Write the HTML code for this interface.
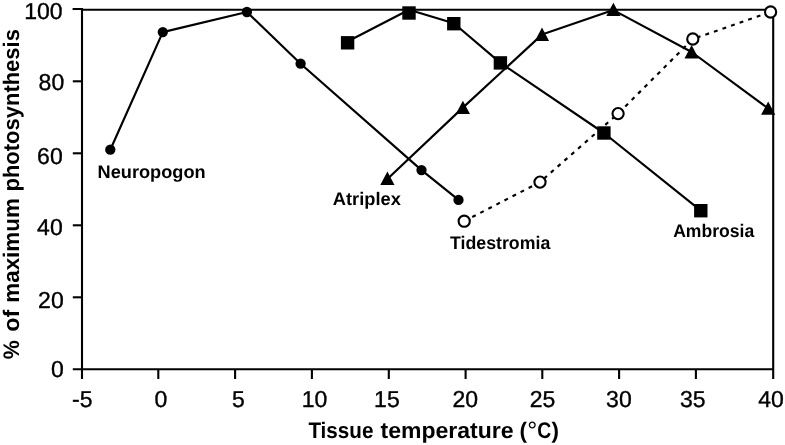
<!DOCTYPE html>
<html><head><meta charset="utf-8"><title>Photosynthesis vs tissue temperature</title>
<style>
html,body{margin:0;padding:0;background:#fff;}
svg{display:block;}
text{font-family:"Liberation Sans",sans-serif;fill:#000;text-rendering:geometricPrecision;}
.b{font-weight:bold;}
</style></head><body>
<svg width="785" height="445" viewBox="0 0 785 445">
<rect width="785" height="445" fill="#fff"/>
<g stroke="#000" stroke-width="2.1" fill="none" stroke-linecap="butt">
<path d="M82.0,8 V379 M773.2,8.8 V379 M81.0,9.8 H774.2 M72.6,9 H82.0 M72.8,369.3 H774.2"/>
<path d="M72.8,81.3 H82.0"/>
<path d="M72.8,153.3 H82.0"/>
<path d="M72.8,225.3 H82.0"/>
<path d="M72.8,297.3 H82.0"/>
<path d="M158.3,369.3 V379"/>
<path d="M235.1,369.3 V379"/>
<path d="M311.9,369.3 V379"/>
<path d="M388.8,369.3 V379"/>
<path d="M465.6,369.3 V379"/>
<path d="M542.3,369.3 V379"/>
<path d="M619.1,369.3 V379"/>
<path d="M695.9,369.3 V379"/>
</g>
<g stroke="#000" stroke-width="2.15" fill="none" stroke-linejoin="round">
<polyline points="110.3,149.7 162.8,32.1 246.9,12.0 300.6,63.7 421.5,170.1 458.5,199.9"/>
<polyline points="347.6,41.5 409.0,9.8 453.8,23.2 500.4,62.9 603.9,133.0 700.8,210.7"/>
<polyline points="387.4,179.0 462.9,107.6 542.0,34.6 613.4,10.1 691.6,52.0 768.2,108.5"/>
<polyline points="464.2,221.2 540.0,182.1 618.1,113.6 692.8,39.0 770.6,12.0" stroke-dasharray="3.9 5.16"/>
</g>
<g fill="#000">
<circle cx="110.3" cy="149.7" r="5.15"/>
<circle cx="162.8" cy="32.1" r="5.15"/>
<circle cx="246.9" cy="12.0" r="5.15"/>
<circle cx="300.6" cy="63.7" r="5.15"/>
<circle cx="421.5" cy="170.1" r="5.15"/>
<circle cx="458.5" cy="199.9" r="5.15"/>
<rect x="340.9" y="36.1" width="13.4" height="13.4"/>
<rect x="402.3" y="6.3" width="13.4" height="13.4"/>
<rect x="447.1" y="17.0" width="13.4" height="13.4"/>
<rect x="493.7" y="56.2" width="13.4" height="13.4"/>
<rect x="597.2" y="126.3" width="13.4" height="13.4"/>
<rect x="694.1" y="204.0" width="13.4" height="13.4"/>
<path d="M387.4,171.5 L394.5,184.9 H380.3 Z"/>
<path d="M462.9,100.7 L470.0,114.1 H455.8 Z"/>
<path d="M542.0,27.5 L549.1,40.9 H534.9 Z"/>
<path d="M613.4,2.7 L620.5,16.1 H606.3 Z"/>
<path d="M691.6,45.0 L698.7,58.4 H684.5 Z"/>
<path d="M768.2,101.4 L775.3,114.8 H761.1 Z"/>
</g>
<g fill="#fff" stroke="#000" stroke-width="2.1">
<circle cx="464.2" cy="221.2" r="5.6"/>
<circle cx="540.0" cy="182.1" r="5.6"/>
<circle cx="618.1" cy="113.6" r="5.6"/>
<circle cx="692.8" cy="39.0" r="5.6"/>
<circle cx="770.6" cy="12.0" r="5.6"/>
</g>
<g font-size="23" text-anchor="end" stroke="#000" stroke-width="0.35">
<text x="62.6" y="18.5">100</text>
<text x="64.2" y="90.1">80</text>
<text x="62.7" y="163.5">60</text>
<text x="62.7" y="235.2">40</text>
<text x="63.7" y="307.5">20</text>
<text x="63.7" y="376.7">0</text>
</g>
<g font-size="23" text-anchor="middle" stroke="#000" stroke-width="0.35">
<text x="82.2" y="406.6">-5</text>
<text x="161" y="406.6">0</text>
<text x="238.3" y="406.6">5</text>
<text x="314.6" y="406.6">10</text>
<text x="386.9" y="406.6">15</text>
<text x="465.3" y="406.6">20</text>
<text x="542.5" y="406.6">25</text>
<text x="618.9" y="406.6">30</text>
<text x="692.7" y="406.6">35</text>
<text x="771" y="406.6">40</text>
</g>
<g class="b" font-size="18.2">
<text x="97.6" y="177.6" textLength="108" lengthAdjust="spacingAndGlyphs">Neuropogon</text>
<text x="332.8" y="204.7" textLength="68" lengthAdjust="spacingAndGlyphs">Atriplex</text>
<text x="450" y="248.9" textLength="100.3" lengthAdjust="spacingAndGlyphs">Tidestromia</text>
<text x="673.2" y="237.2" textLength="81" lengthAdjust="spacingAndGlyphs">Ambrosia</text>
</g>
<text class="b" font-size="22.5" y="437.8"><tspan x="308.4" textLength="65" lengthAdjust="spacingAndGlyphs">Tissue</tspan> <tspan x="380.6" textLength="133" lengthAdjust="spacingAndGlyphs">temperature</tspan> <tspan x="519.6">(</tspan><tspan x="527.2" font-weight="normal" font-size="25" dy="1.2">°</tspan><tspan x="537.2" dy="-1.2" textLength="14" lengthAdjust="spacingAndGlyphs">C</tspan><tspan x="551.4">)</tspan></text>
<text class="b" font-size="22.5" transform="rotate(-90)" y="19.1"><tspan x="-359.3" textLength="19" lengthAdjust="spacingAndGlyphs">%</tspan> <tspan x="-331.8" textLength="22" lengthAdjust="spacingAndGlyphs">of</tspan> <tspan x="-302.7" textLength="104.5" lengthAdjust="spacingAndGlyphs">maximum</tspan> <tspan x="-191.5" textLength="162.4" lengthAdjust="spacingAndGlyphs">photosynthesis</tspan></text>
</svg></body></html>
